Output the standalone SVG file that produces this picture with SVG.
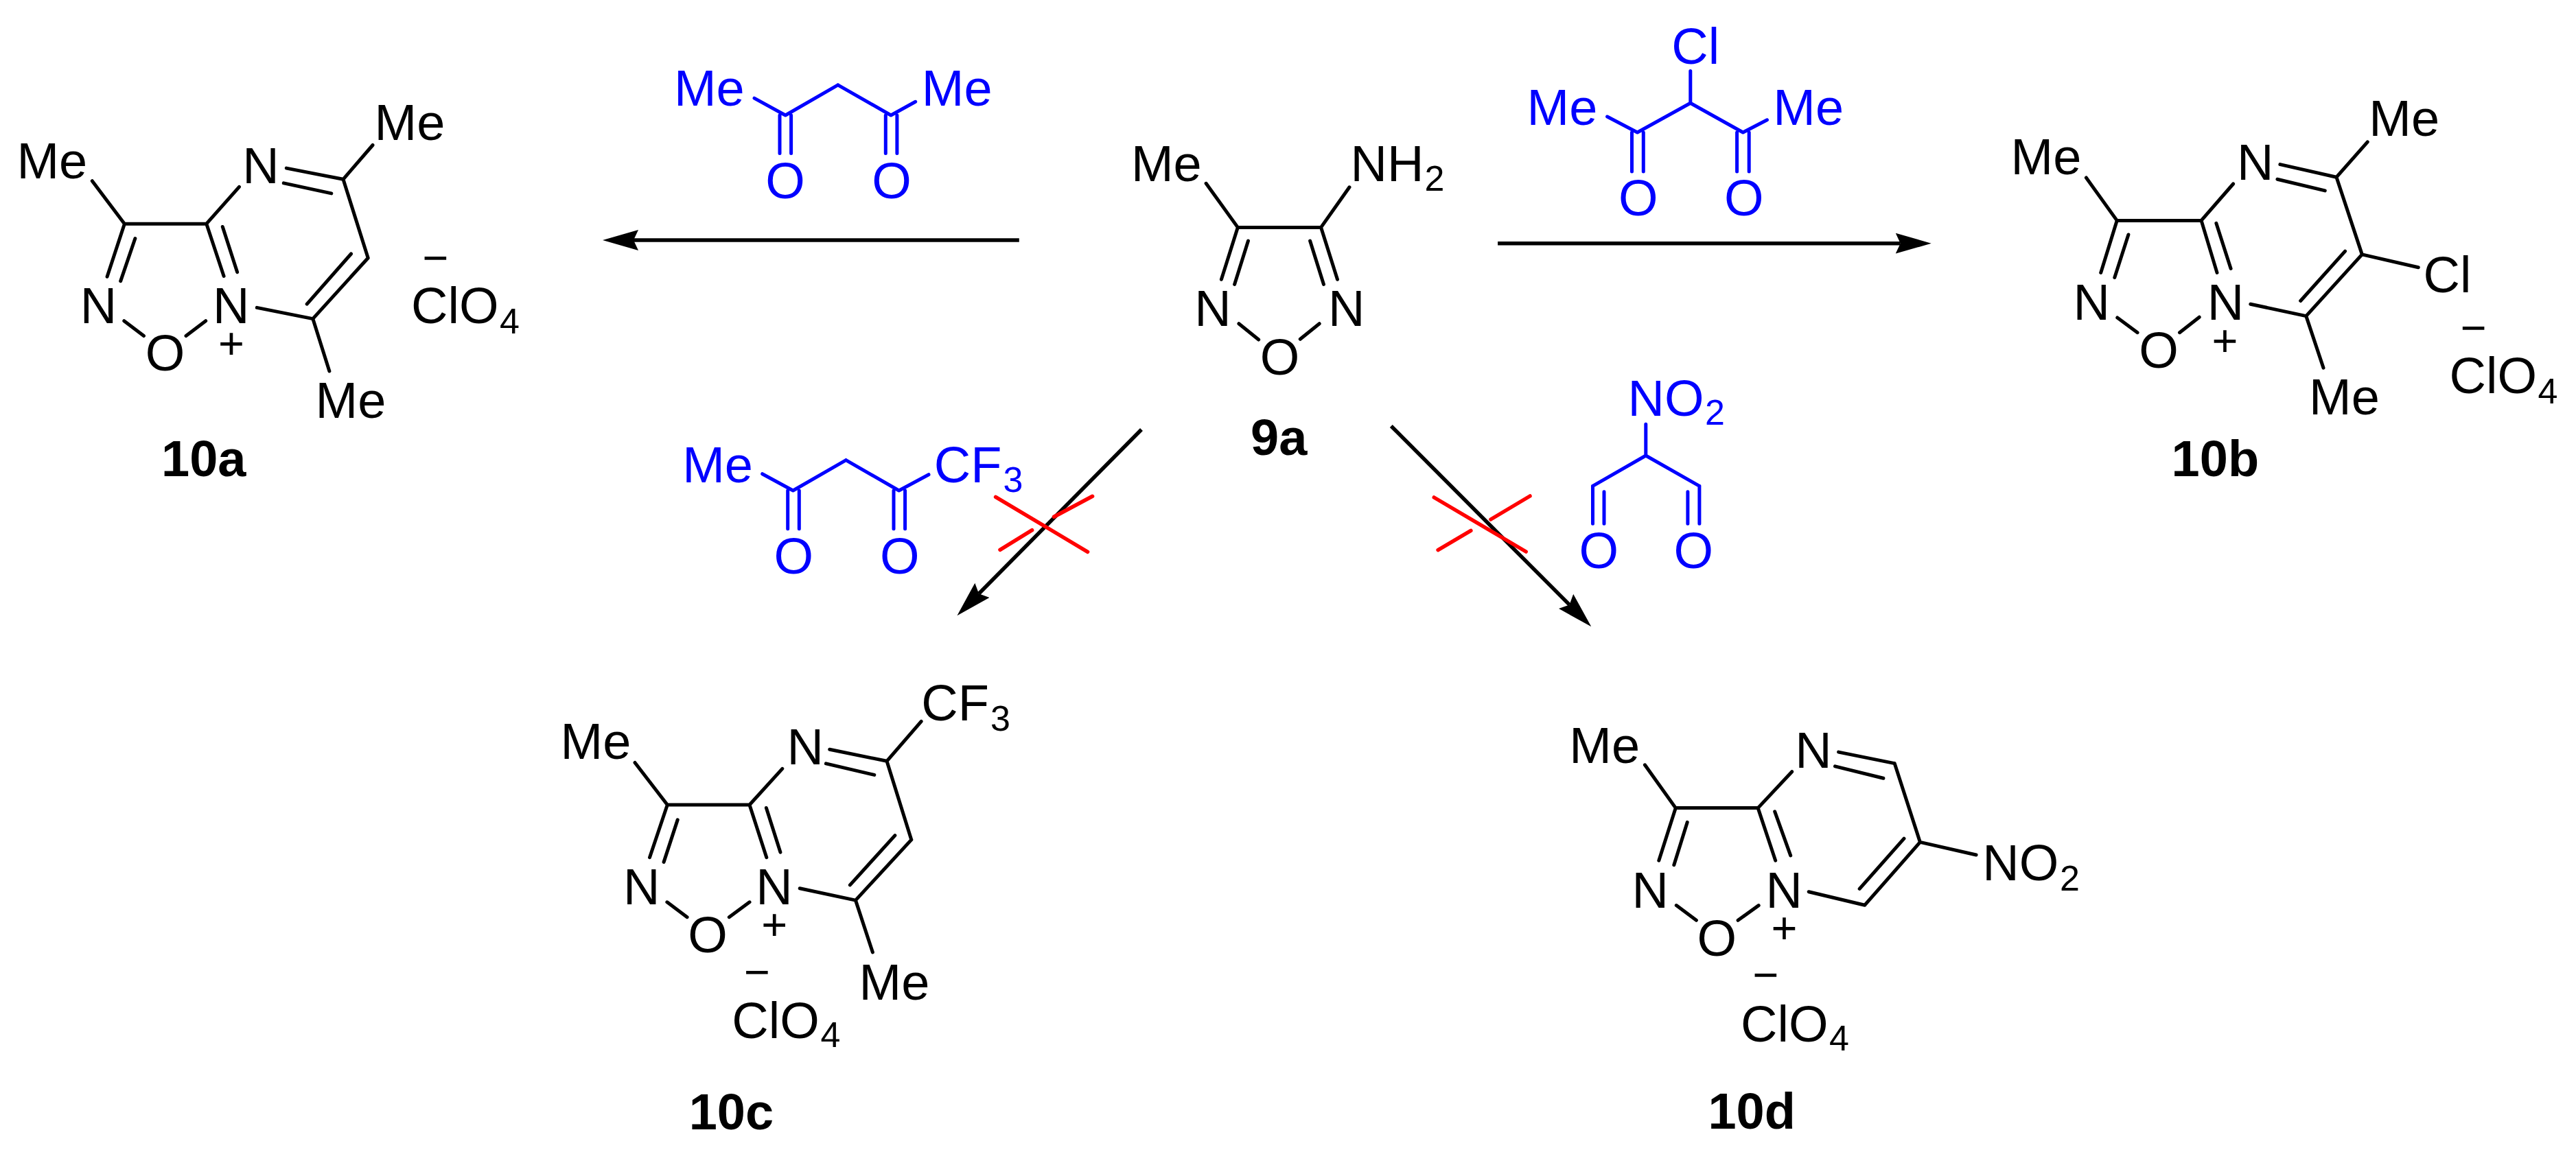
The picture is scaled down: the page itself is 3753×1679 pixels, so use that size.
<svg xmlns="http://www.w3.org/2000/svg" width="3753" height="1679" viewBox="0 0 3753 1679">
<style>
text{font-family:"Liberation Sans",Arial,sans-serif;font-size:74px;fill:#000}
.sub{font-size:52px}
.lab{font-weight:bold}
.chg{font-size:65px;text-anchor:middle}
.bl text{fill:#0000ff}
path{fill:none;stroke:#000;stroke-width:5;stroke-linecap:round;stroke-linejoin:miter}
.bl path{stroke:#0000ff}
.arrow{stroke-width:5.5;stroke-linecap:butt;marker-end:url(#head)}
.x{stroke:#ff0000;stroke-width:5.5}
#head path{fill:#000;stroke:none}
</style>
<defs>
<marker id="head" markerUnits="userSpaceOnUse" viewBox="0 0 52 30" refX="7" refY="15" markerWidth="52" markerHeight="30" orient="auto"><path d="M0,0L52,15L0,30L7,15Z"/></marker>
</defs>
<rect width="3753" height="1679" fill="#fff"/>

<g id="connectors">
<path class="arrow" d="M1484.8,350L923,350"/>
<path class="arrow" d="M2182.1,354.7L2768.7,354.7"/>
<path class="arrow" d="M1663,626L1426.1,865.3"/>
<path class="arrow" d="M2026.8,621L2286.5,881.4"/>
<path class="x" d="M1450.6,724.3L1584.6,804.3M1591.6,723.3L1535.5,753.3M1503.6,772.7L1457,801.3"/>
<path class="x" d="M2089.3,725L2223.2,804M2229,723L2171.9,757M2142.9,773.3L2095.1,801.7"/>
</g>

<g id="n10a">
<path d="M134.3,263.7L181.4,326.2M181.4,326.2L156.1,403.3M196.9,347.5L175.7,409.6M181.4,326.2L300.8,326.2M348.5,272.4L300.8,326.2M300.8,326.2L326.1,402.5M324.3,330.5L345.6,396.6M417.3,245.1L500,261.3M413.3,266.9L482.8,281.9M500,261.3L543,211.5M500,261.3L536.2,376M536.2,376L455.8,464.6M511.5,370L447.2,443.2M374.3,448.4L455.8,464.6M455.8,464.6L479.9,540.9M180.8,467.7L209.5,489.5M271,489.5L299.7,467.7"/>
<text x="24.4" y="260.1">Me</text>
<text x="353.2" y="267.3">N</text>
<text x="545.5" y="204">Me</text>
<text x="116.7" y="470.5">N</text>
<text x="310.1" y="470.5">N</text>
<text x="211.8" y="540">O</text>
<text class="chg" x="337" y="522.6">+</text>
<text x="459.5" y="609.3">Me</text>
<text class="chg" x="634.5" y="398">−</text>
<text x="599.1" y="470.5">ClO<tspan class="sub" x="728" y="485.5">4</tspan></text>
<text class="lab" x="235" y="694.3">10a</text>
</g>

<g id="n10b">
<path d="M3039.4,259L3084.2,321.4M3084.2,321.4L3060.7,397.4M3100.9,342L3080.8,404.5M3084.2,321.4L3207.1,321.4M3253.6,268L3207.1,321.4M3207.1,321.4L3230,397.4M3228.9,325.4L3250.1,391.4M3321.9,239.6L3404,258.2M3317.9,261.3L3387.3,277.9M3404,258.2L3449.3,206.8M3404,258.2L3441.3,370.9M3441.3,370.9L3359.8,460.6M3416.6,366.1L3351.7,438.5M3441.3,370.9L3523.3,389.8M3278.8,443.2L3359.8,460.6M3359.8,460.6L3385,536.1M3084.8,463L3114.1,484.7M3175.5,484.7L3204.2,462.2"/>
<text x="2929.5" y="254.2">Me</text>
<text x="3258.9" y="262.1">N</text>
<text x="3451.3" y="198">Me</text>
<text x="3020.6" y="466.1">N</text>
<text x="3215.8" y="466.1">N</text>
<text x="3116.3" y="536">O</text>
<text class="chg" x="3241.5" y="518.7">+</text>
<text x="3364" y="604.2">Me</text>
<text x="3530.6" y="426.2">Cl</text>
<text class="chg" x="3603.7" y="499.7">−</text>
<text x="3568.5" y="573.3">ClO<tspan class="sub" x="3697.5" y="587.5">4</tspan></text>
<text class="lab" x="3163.6" y="694.3">10b</text>
</g>

<g id="n9a">
<path d="M1757.1,267.3L1803.3,331.4M1966,272.8L1924.6,331.4M1803.3,331.4L1924.6,331.4M1803.3,331.4L1779.4,407.3M1818.5,351.1L1798.6,414.4M1924.6,331.4L1948.5,407.3M1908.6,351.1L1928.5,414.4M1804.9,471.7L1833.7,495M1922.2,471.7L1894.3,494.3"/>
<text x="1647.9" y="264.1">Me</text>
<text x="1967.6" y="264.1">NH<tspan class="sub" x="2075.5" y="278.4">2</tspan></text>
<text x="1740.3" y="475.3">N</text>
<text x="1934.9" y="475.3">N</text>
<text x="1835.7" y="545.7">O</text>
<text class="lab" x="1822" y="662.7">9a</text>
</g>

<g id="reagent-acac" class="bl">
<path d="M1099,143.1L1144.3,168M1144.3,168L1220.8,123.8M1220.8,123.8L1298,168M1298,168L1333.7,148.3M1136,168L1136,223.4M1152.6,168L1152.6,223.4M1290.3,168L1290.3,223.4M1306.9,168L1306.9,223.4"/>
<text x="981.9" y="154.2">Me</text>
<text x="1342.8" y="154.2">Me</text>
<text x="1115.3" y="288.6">O</text>
<text x="1270.2" y="288.6">O</text>
</g>

<g id="reagent-cl" class="bl">
<path d="M2462.8,103.6L2462.8,150.3M2341.6,170L2385.5,193M2385.5,193L2462.8,150.3M2462.8,150.3L2539.4,193M2539.4,193L2574.5,174.8M2377.5,193L2377.5,250M2394.3,193L2394.3,250M2530.6,193L2530.6,250M2548.2,193L2548.2,250"/>
<text x="2435.2" y="92.9">Cl</text>
<text x="2224.5" y="181.9">Me</text>
<text x="2583.3" y="181.9">Me</text>
<text x="2358.1" y="314.4">O</text>
<text x="2512" y="314.4">O</text>
</g>

<g id="reagent-cf3" class="bl">
<path d="M1110.7,690.7L1155.4,715M1155.4,715L1232.5,670.7M1232.5,670.7L1309.7,715M1309.7,715L1353,691.7M1147.7,715L1147.7,770.7M1164.3,715L1164.3,770.7M1302,715L1302,770.7M1318.6,715L1318.6,770.7"/>
<text x="994.2" y="702.7">Me</text>
<text x="1360.8" y="702.7">CF<tspan class="sub" x="1461.5" y="716.7">3</tspan></text>
<text x="1127.6" y="836">O</text>
<text x="1282" y="836">O</text>
</g>

<g id="reagent-no2" class="bl">
<path d="M2397.8,618.3L2397.8,664M2397.8,664L2320.5,708.3M2397.8,664L2475.9,708.3M2320.5,708.3L2320.5,763.3M2337,716.7L2337,763.3M2475.9,708.3L2475.9,763.3M2458.9,716.7L2458.9,763.3"/>
<text x="2371.6" y="605.7">NO<tspan class="sub" x="2484" y="619.3">2</tspan></text>
<text x="2300.5" y="827.7">O</text>
<text x="2438.5" y="827.7">O</text>
</g>

<g id="n10c">
<path d="M925,1111.5L972.3,1173M972.3,1173L946.5,1249.7M987.2,1194.9L967.1,1256.4M972.3,1173L1092,1173M1139.8,1120.4L1092,1173M1092,1173L1116.8,1249.7M1116.4,1177.5L1136.9,1242.1M1208.7,1092.3L1292,1109.3M1203.4,1112.9L1273.8,1129.4M1292,1109.3L1342.2,1051.3M1292,1109.3L1327.8,1223.9M1327.8,1223.9L1246.5,1312.1M1303.9,1217.6L1238.4,1289.9M1165.2,1294.8L1246.5,1312.1M1246.5,1312.1L1271.4,1387.9M971.9,1314.8L1001.1,1336.7M1062.3,1336.7L1092,1314.8"/>
<text x="816.6" y="1106.2">Me</text>
<text x="1146.6" y="1113.7">N</text>
<text x="1342.3" y="1050">CF<tspan class="sub" x="1443" y="1064.7">3</tspan></text>
<text x="907.9" y="1317.5">N</text>
<text x="1101.2" y="1317.5">N</text>
<text x="1002.3" y="1387.9">O</text>
<text class="chg" x="1128.3" y="1370.4">+</text>
<text class="chg" x="1103" y="1439">−</text>
<text x="1066.3" y="1512.8">ClO<tspan class="sub" x="1195.5" y="1526.1">4</tspan></text>
<text x="1251.5" y="1457">Me</text>
<text class="lab" x="1003.7" y="1645.6">10c</text>
</g>

<g id="n10d">
<path d="M2396.4,1114.8L2441.3,1177.6M2441.3,1177.6L2416.8,1254.2M2458.2,1198.4L2438.8,1260.7M2441.3,1177.6L2561.2,1177.6M2610.7,1124.7L2561.2,1177.6M2561.2,1177.6L2586.7,1254.2M2585.7,1182.8L2608.7,1246.9M2678.6,1096.1L2760.2,1112.6M2673.5,1116.9L2743.9,1134.3M2760.2,1112.6L2797.4,1227.4M2797.4,1227.4L2716.8,1319.2M2774,1222.2L2709.2,1295.4M2797.4,1227.4L2879.1,1246M2635.2,1299.7L2716.8,1319.2M2442.3,1319.6L2471.4,1341.3M2532.1,1341.3L2562.2,1319.6"/>
<text x="2286.3" y="1111.7">Me</text>
<text x="2615.3" y="1119.1">N</text>
<text x="2377.6" y="1322.6">N</text>
<text x="2572.5" y="1322.6">N</text>
<text x="2472.5" y="1393.2">O</text>
<text class="chg" x="2599.5" y="1375.1">+</text>
<text class="chg" x="2572.4" y="1443.1">−</text>
<text x="2536.1" y="1517.5">ClO<tspan class="sub" x="2665" y="1531.4">4</tspan></text>
<text x="2888.3" y="1282.8">NO<tspan class="sub" x="3001" y="1297.5">2</tspan></text>
<text class="lab" x="2488.4" y="1645.3">10d</text>
</g>
</svg>
